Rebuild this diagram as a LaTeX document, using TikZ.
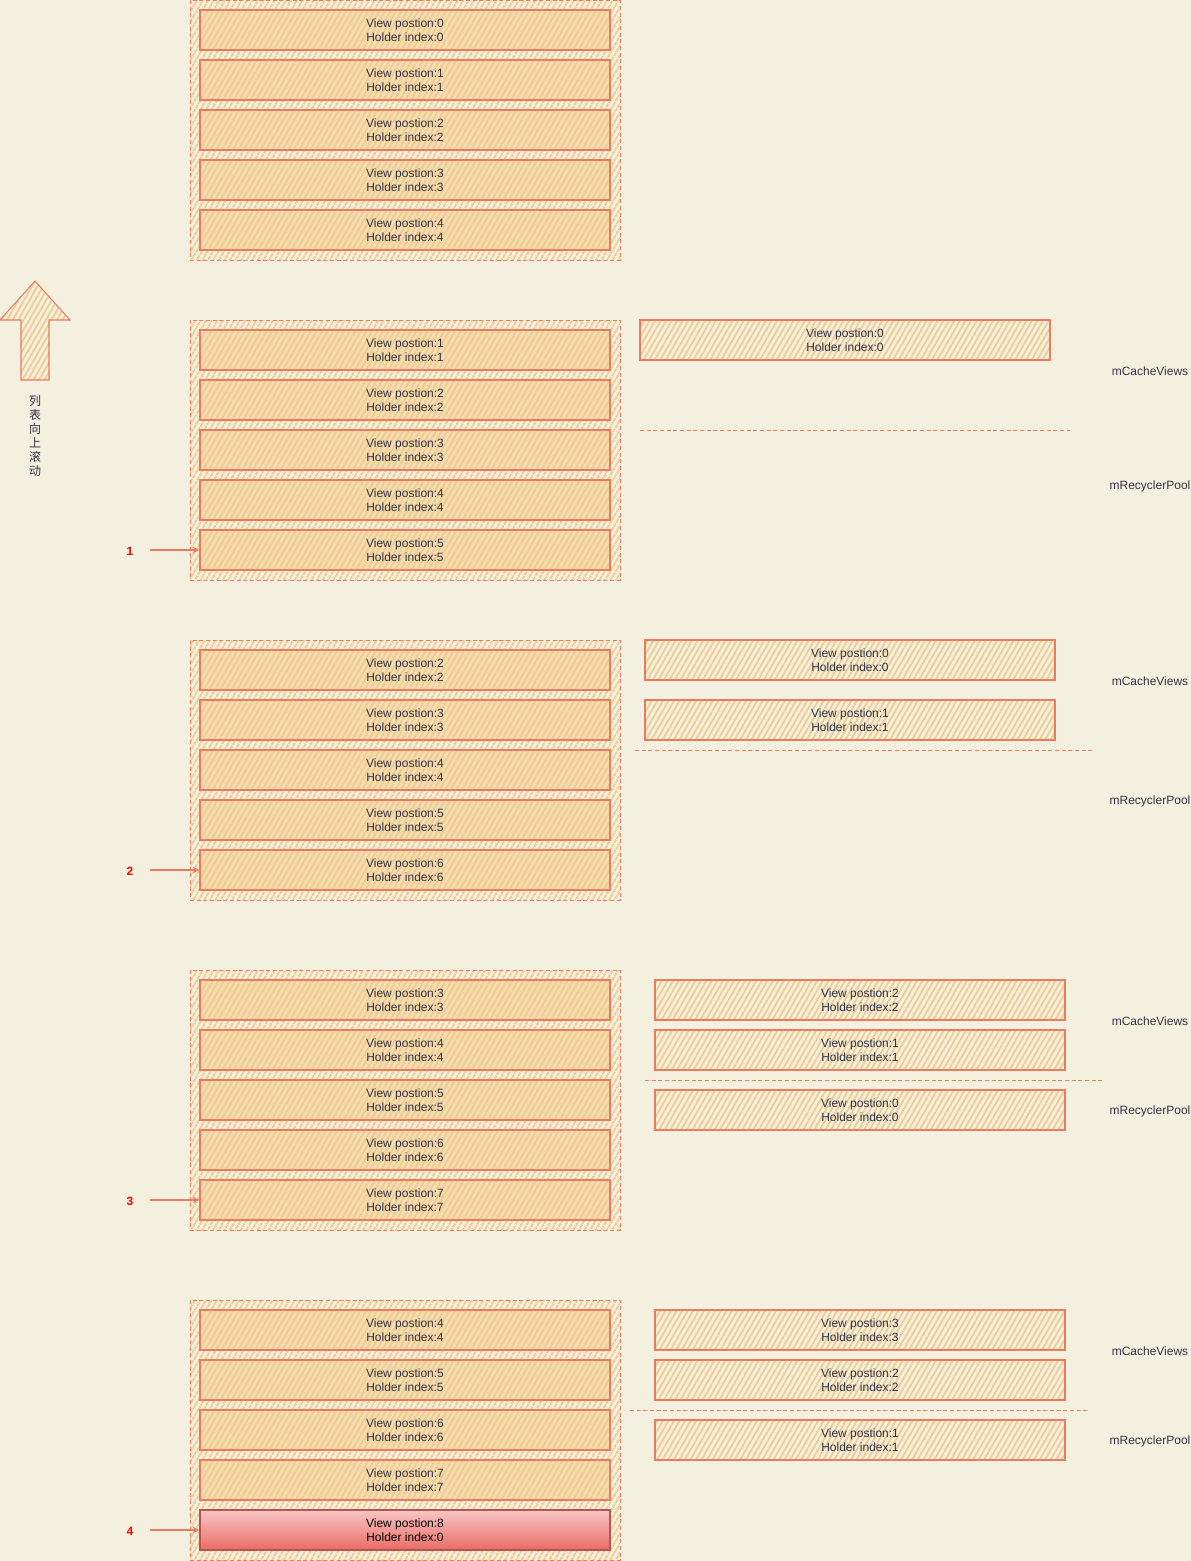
\documentclass[tikz,border=0pt]{standalone}
\usepackage{fontspec}
\setmainfont{Liberation Sans}
\newfontfamily\cjk{Noto Sans CJK SC}
\usetikzlibrary{patterns.meta,arrows.meta}
\definecolor{bgc}{HTML}{F4F0DF}
\definecolor{strk}{HTML}{EA7B5E}
\definecolor{hatchc}{HTML}{F0CA8E}
\definecolor{itemfill}{HTML}{F5DDB2}
\definecolor{txt}{HTML}{333344}
\definecolor{redtop}{HTML}{F8C6C4}
\definecolor{redbot}{HTML}{EA6B66}
\definecolor{redstrk}{HTML}{B85450}
\tikzset{
  hatch/.style={pattern={Lines[angle=60,distance=3.6pt,line width=1.3pt]}, pattern color=hatchc},
  cont/.style={draw=strk, dash pattern=on 3pt off 2pt, line width=0.7pt, hatch,
    minimum width=322.5pt, minimum height=195pt, inner sep=0pt},
  boxbase/.style={minimum width=307.5pt, minimum height=30pt, inner sep=0pt,
    align=center, text=txt, font=\fontsize{9}{10.5}\selectfont, text depth=0pt},
  item/.style={boxbase, draw=strk, line width=0.9pt, preaction={fill=itemfill}, hatch},
  sideitem/.style={boxbase, draw=strk, line width=0.8pt, hatch},
  reditem/.style={boxbase, draw=redstrk, line width=0.9pt, top color=redtop, bottom color=redbot, text=black},
  divider/.style={draw=strk, dash pattern=on 3pt off 2pt, line width=0.6pt},
  numlab/.style={text=red, font=\fontsize{9}{10}\selectfont\bfseries},
  sidelab/.style={text=txt, font=\fontsize{9}{10}\selectfont},
  ptr/.style={draw=strk, line width=0.8pt, -{Stealth[open,length=5pt,width=5pt]}},
}
\begin{document}
\begin{tikzpicture}[x=0.75pt,y=-0.75pt]
\fill[bgc] (0,0) rectangle (1191,1561);
\useasboundingbox (0,0) rectangle (1191,1561);

% left column of lists
\foreach \g/\T/\n in {0/0/4,1/320/4,2/640/4,3/970/4,4/1300/3} {
  \node[cont] (c\g) at (405,\T+130) {};
  \foreach \j in {0,...,\n} {
    \pgfmathtruncatemacro\k{\g+\j}
    \node[item] (i\g-\j) at (405,\T+30+50*\j) {View postion:\k\\Holder index:\k};
  }
}
\node[reditem] (i4-4) at (405,1530) {View postion:8\\Holder index:0};

% scroll arrow
\filldraw[draw=strk, line width=0.8pt, hatch]
  (35,281) -- (70,320) -- (49,320) -- (49,380) -- (21,380) -- (21,320) -- (0,320) -- cycle;
\node[text=txt, font=\cjk\fontsize{9}{10.5}\selectfont, align=center] (scroll) at (35,436)
  {列\\表\\向\\上\\滚\\动};

% numbered pointers
\foreach \g/\Y/\m in {1/550/1,2/870/2,3/1200/3,4/1530/4} {
  \node[numlab] (n\g) at (130,\Y+1) {\m};
  \coordinate (s\g) at (150,\Y);
  \draw[ptr] (s\g) -- (i\g-4.west);
}

% right side: caches
\node[sideitem] (r1a) at (845,340) {View postion:0\\Holder index:0};
\coordinate (d1a) at (640,430); \coordinate (d1b) at (1070,430);
\draw[divider] (d1a) -- (d1b);

\node[sideitem] (r2a) at (850,660) {View postion:0\\Holder index:0};
\node[sideitem] (r2b) at (850,720) {View postion:1\\Holder index:1};
\coordinate (d2a) at (635,750); \coordinate (d2b) at (1095,750);
\draw[divider] (d2a) -- (d2b);

\node[sideitem] (r3a) at (860,1000) {View postion:2\\Holder index:2};
\node[sideitem] (r3b) at (860,1050) {View postion:1\\Holder index:1};
\node[sideitem] (r3c) at (860,1110) {View postion:0\\Holder index:0};
\coordinate (d3a) at (645,1080); \coordinate (d3b) at (1105,1080);
\draw[divider] (d3a) -- (d3b);

\node[sideitem] (r4a) at (860,1330) {View postion:3\\Holder index:3};
\node[sideitem] (r4b) at (860,1380) {View postion:2\\Holder index:2};
\node[sideitem] (r4c) at (860,1440) {View postion:1\\Holder index:1};
\coordinate (d4a) at (630,1410); \coordinate (d4b) at (1090,1410);
\draw[divider] (d4a) -- (d4b);

% side labels
\node[sidelab] (cv1) at (1150,371) {mCacheViews};
\node[sidelab] (rp1) at (1150,486) {mRecyclerPool};
\node[sidelab] (cv2) at (1150,681) {mCacheViews};
\node[sidelab] (rp2) at (1150,801) {mRecyclerPool};
\node[sidelab] (cv3) at (1150,1021) {mCacheViews};
\node[sidelab] (rp3) at (1150,1111) {mRecyclerPool};
\node[sidelab] (cv4) at (1150,1351) {mCacheViews};
\node[sidelab] (rp4) at (1150,1441) {mRecyclerPool};
\end{tikzpicture}
\end{document}
